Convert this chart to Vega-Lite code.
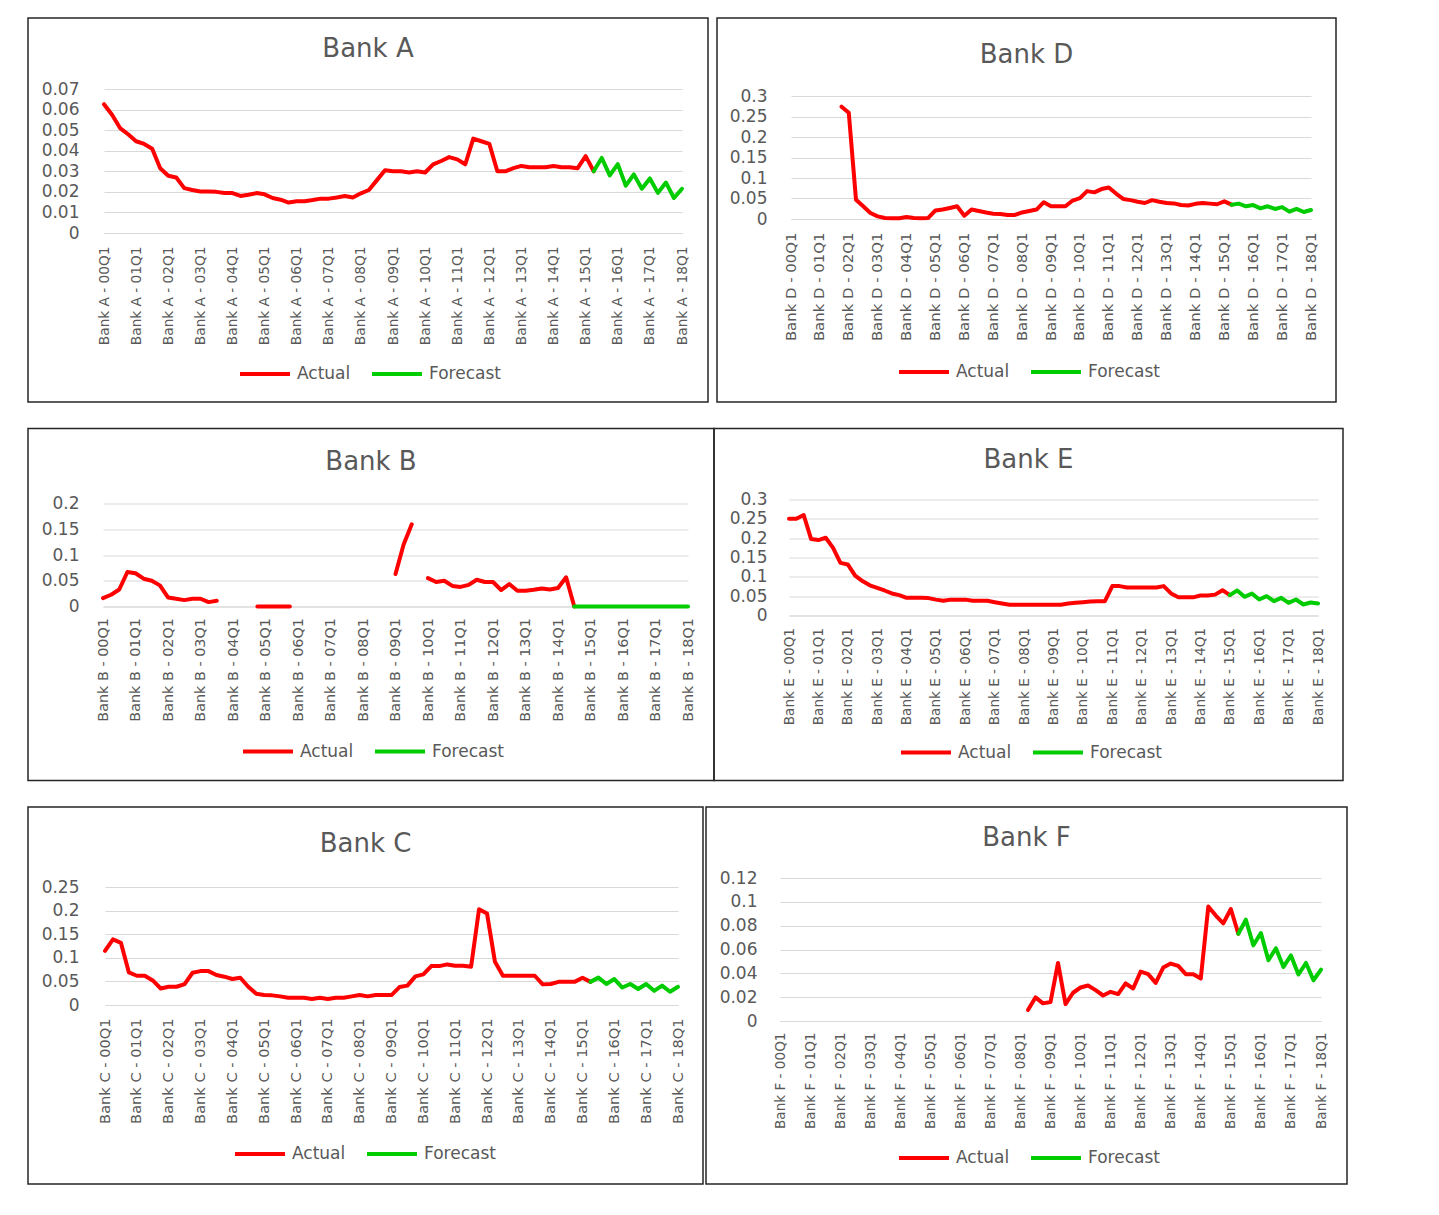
{
"$schema": "https://vega.github.io/schema/vega-lite/v6.json",
"padding": {"left": 27, "top": 17, "right": 4, "bottom": 4},
"background": "white",
"config": {
 "view": {"stroke": "#262626", "strokeWidth": 1.5},
 "font": "DejaVu Sans",
 "axis": {"labelFont": "DejaVu Sans", "labelColor": "#595959", "gridColor": "#D9D9D9", "gridWidth": 1, "domainColor": "#D9D9D9", "ticks": false, "tickSize": 0, "labelOverlap": false},
 "axisX": {"grid": false, "labelAngle": -90, "labelFontSize": 13.6, "domain": true},
 "axisY": {"grid": true, "domain": false, "labelFontSize": 17, "labelPadding": 0, "format": ".2~f"},
 "legend": {"title": null, "orient": "none", "direction": "horizontal", "symbolType": "stroke", "symbolSize": 2500, "symbolStrokeWidth": 4, "labelFont": "DejaVu Sans", "labelFontSize": 17, "labelColor": "#595959", "labelOffset": 5, "columnPadding": 19, "padding": 0},
 "title": {"font": "DejaVu Sans", "fontSize": 26, "fontWeight": "normal", "color": "#595959", "anchor": "middle", "frame": "group", "baseline": "middle"},
 "line": {"strokeWidth": 4, "strokeCap": "round", "strokeJoin": "round", "invalid": "break-paths-show-domains"}
},
"datasets": {
 "A": [
  {"q":"00Q1","Actual":0.0626},{"q":"00Q2","Actual":0.0575},{"q":"00Q3","Actual":0.051},{"q":"00Q4","Actual":0.048},
  {"q":"01Q1","Actual":0.0446},{"q":"01Q2","Actual":0.0433},{"q":"01Q3","Actual":0.041},{"q":"01Q4","Actual":0.0315},
  {"q":"02Q1","Actual":0.0278},{"q":"02Q2","Actual":0.027},{"q":"02Q3","Actual":0.0218},{"q":"02Q4","Actual":0.0209},
  {"q":"03Q1","Actual":0.0202},{"q":"03Q2","Actual":0.0202},{"q":"03Q3","Actual":0.0200},{"q":"03Q4","Actual":0.0194},
  {"q":"04Q1","Actual":0.0194},{"q":"04Q2","Actual":0.018},{"q":"04Q3","Actual":0.0186},{"q":"04Q4","Actual":0.0194},
  {"q":"05Q1","Actual":0.0188},{"q":"05Q2","Actual":0.017},{"q":"05Q3","Actual":0.0162},{"q":"05Q4","Actual":0.0148},
  {"q":"06Q1","Actual":0.0154},{"q":"06Q2","Actual":0.0154},{"q":"06Q3","Actual":0.016},{"q":"06Q4","Actual":0.0167},
  {"q":"07Q1","Actual":0.0167},{"q":"07Q2","Actual":0.0173},{"q":"07Q3","Actual":0.018},{"q":"07Q4","Actual":0.0173},
  {"q":"08Q1","Actual":0.0193},{"q":"08Q2","Actual":0.0209},{"q":"08Q3","Actual":0.0257},{"q":"08Q4","Actual":0.0305},
  {"q":"09Q1","Actual":0.030},{"q":"09Q2","Actual":0.030},{"q":"09Q3","Actual":0.0294},{"q":"09Q4","Actual":0.030},
  {"q":"10Q1","Actual":0.0294},{"q":"10Q2","Actual":0.0334},{"q":"10Q3","Actual":0.035},{"q":"10Q4","Actual":0.0369},
  {"q":"11Q1","Actual":0.0358},{"q":"11Q2","Actual":0.0334},{"q":"11Q3","Actual":0.0459},{"q":"11Q4","Actual":0.0446},
  {"q":"12Q1","Actual":0.0433},{"q":"12Q2","Actual":0.030},{"q":"12Q3","Actual":0.030},{"q":"12Q4","Actual":0.0315},
  {"q":"13Q1","Actual":0.0326},{"q":"13Q2","Actual":0.032},{"q":"13Q3","Actual":0.032},{"q":"13Q4","Actual":0.032},
  {"q":"14Q1","Actual":0.0326},{"q":"14Q2","Actual":0.032},{"q":"14Q3","Actual":0.032},{"q":"14Q4","Actual":0.0315},
  {"q":"15Q1","Actual":0.0374},{"q":"15Q2","Actual":0.030,"Forecast":0.030},{"q":"15Q3","Forecast":0.0365},{"q":"15Q4","Forecast":0.028},
  {"q":"16Q1","Forecast":0.0335},{"q":"16Q2","Forecast":0.023},{"q":"16Q3","Forecast":0.0285},{"q":"16Q4","Forecast":0.0215},
  {"q":"17Q1","Forecast":0.0265},{"q":"17Q2","Forecast":0.0195},{"q":"17Q3","Forecast":0.0245},{"q":"17Q4","Forecast":0.017},
  {"q":"18Q1","Forecast":0.0215}
 ],
 "D": [
  {"q":"00Q1"},{"q":"00Q2"},{"q":"00Q3"},{"q":"00Q4"},
  {"q":"01Q1"},{"q":"01Q2"},{"q":"01Q3"},{"q":"01Q4","Actual":0.274},
  {"q":"02Q1","Actual":0.259},{"q":"02Q2","Actual":0.047},{"q":"02Q3","Actual":0.031},{"q":"02Q4","Actual":0.0147},
  {"q":"03Q1","Actual":0.0065},{"q":"03Q2","Actual":0.0025},{"q":"03Q3","Actual":0.002},{"q":"03Q4","Actual":0.002},
  {"q":"04Q1","Actual":0.005},{"q":"04Q2","Actual":0.0025},{"q":"04Q3","Actual":0.002},{"q":"04Q4","Actual":0.0025},
  {"q":"05Q1","Actual":0.021},{"q":"05Q2","Actual":0.023},{"q":"05Q3","Actual":0.027},{"q":"05Q4","Actual":0.031},
  {"q":"06Q1","Actual":0.008},{"q":"06Q2","Actual":0.023},{"q":"06Q3","Actual":0.0196},{"q":"06Q4","Actual":0.016},
  {"q":"07Q1","Actual":0.013},{"q":"07Q2","Actual":0.012},{"q":"07Q3","Actual":0.0098},{"q":"07Q4","Actual":0.0098},
  {"q":"08Q1","Actual":0.016},{"q":"08Q2","Actual":0.0196},{"q":"08Q3","Actual":0.023},{"q":"08Q4","Actual":0.041},
  {"q":"09Q1","Actual":0.031},{"q":"09Q2","Actual":0.031},{"q":"09Q3","Actual":0.031},{"q":"09Q4","Actual":0.045},
  {"q":"10Q1","Actual":0.051},{"q":"10Q2","Actual":0.068},{"q":"10Q3","Actual":0.065},{"q":"10Q4","Actual":0.073},
  {"q":"11Q1","Actual":0.077},{"q":"11Q2","Actual":0.062},{"q":"11Q3","Actual":0.049},{"q":"11Q4","Actual":0.046},
  {"q":"12Q1","Actual":0.042},{"q":"12Q2","Actual":0.039},{"q":"12Q3","Actual":0.046},{"q":"12Q4","Actual":0.042},
  {"q":"13Q1","Actual":0.039},{"q":"13Q2","Actual":0.038},{"q":"13Q3","Actual":0.034},{"q":"13Q4","Actual":0.033},
  {"q":"14Q1","Actual":0.037},{"q":"14Q2","Actual":0.039},{"q":"14Q3","Actual":0.0375},{"q":"14Q4","Actual":0.036},
  {"q":"15Q1","Actual":0.043},{"q":"15Q2","Actual":0.035,"Forecast":0.035},{"q":"15Q3","Forecast":0.0375},{"q":"15Q4","Forecast":0.031},
  {"q":"16Q1","Forecast":0.034},{"q":"16Q2","Forecast":0.026},{"q":"16Q3","Forecast":0.031},{"q":"16Q4","Forecast":0.0245},
  {"q":"17Q1","Forecast":0.029},{"q":"17Q2","Forecast":0.018},{"q":"17Q3","Forecast":0.0245},{"q":"17Q4","Forecast":0.017},
  {"q":"18Q1","Forecast":0.022}
 ],
 "B": [
  {"q":"00Q1","Actual":0.0163},{"q":"00Q2","Actual":0.0228},{"q":"00Q3","Actual":0.033},{"q":"00Q4","Actual":0.067},
  {"q":"01Q1","Actual":0.0645},{"q":"01Q2","Actual":0.054},{"q":"01Q3","Actual":0.050},{"q":"01Q4","Actual":0.041},
  {"q":"02Q1","Actual":0.0176},{"q":"02Q2","Actual":0.015},{"q":"02Q3","Actual":0.0124},{"q":"02Q4","Actual":0.015},
  {"q":"03Q1","Actual":0.015},{"q":"03Q2","Actual":0.0085},{"q":"03Q3","Actual":0.011},{"q":"03Q4"},
  {"q":"04Q1"},{"q":"04Q2"},{"q":"04Q3"},{"q":"04Q4","Actual":0},
  {"q":"05Q1","Actual":0},{"q":"05Q2","Actual":0},{"q":"05Q3","Actual":0},{"q":"05Q4","Actual":0},
  {"q":"06Q1"},{"q":"06Q2"},{"q":"06Q3"},{"q":"06Q4"},
  {"q":"07Q1"},{"q":"07Q2"},{"q":"07Q3"},{"q":"07Q4"},
  {"q":"08Q1"},{"q":"08Q2"},{"q":"08Q3"},{"q":"08Q4"},
  {"q":"09Q1","Actual":0.0632},{"q":"09Q2","Actual":0.1205},{"q":"09Q3","Actual":0.1596},{"q":"09Q4"},
  {"q":"10Q1","Actual":0.055},{"q":"10Q2","Actual":0.0475},{"q":"10Q3","Actual":0.050},{"q":"10Q4","Actual":0.040},
  {"q":"11Q1","Actual":0.038},{"q":"11Q2","Actual":0.042},{"q":"11Q3","Actual":0.052},{"q":"11Q4","Actual":0.0475},
  {"q":"12Q1","Actual":0.0475},{"q":"12Q2","Actual":0.032},{"q":"12Q3","Actual":0.0436},{"q":"12Q4","Actual":0.0306},
  {"q":"13Q1","Actual":0.0306},{"q":"13Q2","Actual":0.0326},{"q":"13Q3","Actual":0.035},{"q":"13Q4","Actual":0.033},
  {"q":"14Q1","Actual":0.036},{"q":"14Q2","Actual":0.0567},{"q":"14Q3","Actual":0,"Forecast":0},{"q":"14Q4","Forecast":0},
  {"q":"15Q1","Forecast":0},{"q":"15Q2","Forecast":0},{"q":"15Q3","Forecast":0},{"q":"15Q4","Forecast":0},
  {"q":"16Q1","Forecast":0},{"q":"16Q2","Forecast":0},{"q":"16Q3","Forecast":0},{"q":"16Q4","Forecast":0},
  {"q":"17Q1","Forecast":0},{"q":"17Q2","Forecast":0},{"q":"17Q3","Forecast":0},{"q":"17Q4","Forecast":0},
  {"q":"18Q1","Forecast":0}
 ],
 "E": [
  {"q":"00Q1","Actual":0.25},{"q":"00Q2","Actual":0.25},{"q":"00Q3","Actual":0.26},{"q":"00Q4","Actual":0.198},
  {"q":"01Q1","Actual":0.195},{"q":"01Q2","Actual":0.201},{"q":"01Q3","Actual":0.175},{"q":"01Q4","Actual":0.136},
  {"q":"02Q1","Actual":0.132},{"q":"02Q2","Actual":0.103},{"q":"02Q3","Actual":0.089},{"q":"02Q4","Actual":0.078},
  {"q":"03Q1","Actual":0.0716},{"q":"03Q2","Actual":0.0647},{"q":"03Q3","Actual":0.057},{"q":"03Q4","Actual":0.0526},
  {"q":"04Q1","Actual":0.0457},{"q":"04Q2","Actual":0.0457},{"q":"04Q3","Actual":0.0457},{"q":"04Q4","Actual":0.045},
  {"q":"05Q1","Actual":0.041},{"q":"05Q2","Actual":0.038},{"q":"05Q3","Actual":0.041},{"q":"05Q4","Actual":0.041},
  {"q":"06Q1","Actual":0.041},{"q":"06Q2","Actual":0.038},{"q":"06Q3","Actual":0.038},{"q":"06Q4","Actual":0.038},
  {"q":"07Q1","Actual":0.0345},{"q":"07Q2","Actual":0.031},{"q":"07Q3","Actual":0.0276},{"q":"07Q4","Actual":0.0276},
  {"q":"08Q1","Actual":0.0276},{"q":"08Q2","Actual":0.0276},{"q":"08Q3","Actual":0.0276},{"q":"08Q4","Actual":0.0276},
  {"q":"09Q1","Actual":0.0276},{"q":"09Q2","Actual":0.0276},{"q":"09Q3","Actual":0.031},{"q":"09Q4","Actual":0.033},
  {"q":"10Q1","Actual":0.0345},{"q":"10Q2","Actual":0.036},{"q":"10Q3","Actual":0.037},{"q":"10Q4","Actual":0.037},
  {"q":"11Q1","Actual":0.076},{"q":"11Q2","Actual":0.076},{"q":"11Q3","Actual":0.0724},{"q":"11Q4","Actual":0.0724},
  {"q":"12Q1","Actual":0.0724},{"q":"12Q2","Actual":0.0724},{"q":"12Q3","Actual":0.0724},{"q":"12Q4","Actual":0.076},
  {"q":"13Q1","Actual":0.057},{"q":"13Q2","Actual":0.047},{"q":"13Q3","Actual":0.047},{"q":"13Q4","Actual":0.047},
  {"q":"14Q1","Actual":0.0517},{"q":"14Q2","Actual":0.0517},{"q":"14Q3","Actual":0.054},{"q":"14Q4","Actual":0.0655},
  {"q":"15Q1","Actual":0.0526,"Forecast":0.0526},{"q":"15Q2","Forecast":0.0647},{"q":"15Q3","Forecast":0.0483},{"q":"15Q4","Forecast":0.057},
  {"q":"16Q1","Forecast":0.0414},{"q":"16Q2","Forecast":0.05},{"q":"16Q3","Forecast":0.037},{"q":"16Q4","Forecast":0.0457},
  {"q":"17Q1","Forecast":0.0328},{"q":"17Q2","Forecast":0.0414},{"q":"17Q3","Forecast":0.0284},{"q":"17Q4","Forecast":0.0336},
  {"q":"18Q1","Forecast":0.031}
 ],
 "C": [
  {"q":"00Q1","Actual":0.1148},{"q":"00Q2","Actual":0.139},{"q":"00Q3","Actual":0.1317},{"q":"00Q4","Actual":0.069},
  {"q":"01Q1","Actual":0.062},{"q":"01Q2","Actual":0.062},{"q":"01Q3","Actual":0.052},{"q":"01Q4","Actual":0.035},
  {"q":"02Q1","Actual":0.0387},{"q":"02Q2","Actual":0.0387},{"q":"02Q3","Actual":0.0444},{"q":"02Q4","Actual":0.0683},
  {"q":"03Q1","Actual":0.0718},{"q":"03Q2","Actual":0.0718},{"q":"03Q3","Actual":0.0634},{"q":"03Q4","Actual":0.06},
  {"q":"04Q1","Actual":0.055},{"q":"04Q2","Actual":0.0577},{"q":"04Q3","Actual":0.0387},{"q":"04Q4","Actual":0.024},
  {"q":"05Q1","Actual":0.0211},{"q":"05Q2","Actual":0.0204},{"q":"05Q3","Actual":0.0183},{"q":"05Q4","Actual":0.0155},
  {"q":"06Q1","Actual":0.0155},{"q":"06Q2","Actual":0.0155},{"q":"06Q3","Actual":0.0127},{"q":"06Q4","Actual":0.0155},
  {"q":"07Q1","Actual":0.0127},{"q":"07Q2","Actual":0.0155},{"q":"07Q3","Actual":0.0155},{"q":"07Q4","Actual":0.0183},
  {"q":"08Q1","Actual":0.0211},{"q":"08Q2","Actual":0.0183},{"q":"08Q3","Actual":0.0211},{"q":"08Q4","Actual":0.0211},
  {"q":"09Q1","Actual":0.0211},{"q":"09Q2","Actual":0.038},{"q":"09Q3","Actual":0.041},{"q":"09Q4","Actual":0.0606},
  {"q":"10Q1","Actual":0.0648},{"q":"10Q2","Actual":0.0824},{"q":"10Q3","Actual":0.0824},{"q":"10Q4","Actual":0.086},
  {"q":"11Q1","Actual":0.083},{"q":"11Q2","Actual":0.083},{"q":"11Q3","Actual":0.081},{"q":"11Q4","Actual":0.203},
  {"q":"12Q1","Actual":0.194},{"q":"12Q2","Actual":0.0915},{"q":"12Q3","Actual":0.062},{"q":"12Q4","Actual":0.062},
  {"q":"13Q1","Actual":0.062},{"q":"13Q2","Actual":0.062},{"q":"13Q3","Actual":0.062},{"q":"13Q4","Actual":0.0437},
  {"q":"14Q1","Actual":0.0444},{"q":"14Q2","Actual":0.049},{"q":"14Q3","Actual":0.049},{"q":"14Q4","Actual":0.049},
  {"q":"15Q1","Actual":0.0577},{"q":"15Q2","Actual":0.049,"Forecast":0.049},{"q":"15Q3","Forecast":0.058},{"q":"15Q4","Forecast":0.0444},
  {"q":"16Q1","Forecast":0.055},{"q":"16Q2","Forecast":0.037},{"q":"16Q3","Forecast":0.0444},{"q":"16Q4","Forecast":0.0338},
  {"q":"17Q1","Forecast":0.0444},{"q":"17Q2","Forecast":0.030},{"q":"17Q3","Forecast":0.041},{"q":"17Q4","Forecast":0.028},
  {"q":"18Q1","Forecast":0.0387}
 ],
 "F": [
  {"q":"00Q1"},{"q":"00Q2"},{"q":"00Q3"},{"q":"00Q4"},
  {"q":"01Q1"},{"q":"01Q2"},{"q":"01Q3"},{"q":"01Q4"},
  {"q":"02Q1"},{"q":"02Q2"},{"q":"02Q3"},{"q":"02Q4"},
  {"q":"03Q1"},{"q":"03Q2"},{"q":"03Q3"},{"q":"03Q4"},
  {"q":"04Q1"},{"q":"04Q2"},{"q":"04Q3"},{"q":"04Q4"},
  {"q":"05Q1"},{"q":"05Q2"},{"q":"05Q3"},{"q":"05Q4"},
  {"q":"06Q1"},{"q":"06Q2"},{"q":"06Q3"},{"q":"06Q4"},
  {"q":"07Q1"},{"q":"07Q2"},{"q":"07Q3"},{"q":"07Q4"},
  {"q":"08Q1"},{"q":"08Q2","Actual":0.0092},{"q":"08Q3","Actual":0.0198},{"q":"08Q4","Actual":0.0148},
  {"q":"09Q1","Actual":0.0159},{"q":"09Q2","Actual":0.0487},{"q":"09Q3","Actual":0.0142},{"q":"09Q4","Actual":0.0237},
  {"q":"10Q1","Actual":0.0281},{"q":"10Q2","Actual":0.0298},{"q":"10Q3","Actual":0.0259},{"q":"10Q4","Actual":0.0214},
  {"q":"11Q1","Actual":0.0245},{"q":"11Q2","Actual":0.0226},{"q":"11Q3","Actual":0.0315},{"q":"11Q4","Actual":0.0273},
  {"q":"12Q1","Actual":0.0415},{"q":"12Q2","Actual":0.0393},{"q":"12Q3","Actual":0.032},{"q":"12Q4","Actual":0.0448},
  {"q":"13Q1","Actual":0.0482},{"q":"13Q2","Actual":0.0462},{"q":"13Q3","Actual":0.0393},{"q":"13Q4","Actual":0.0393},
  {"q":"14Q1","Actual":0.0356},{"q":"14Q2","Actual":0.096},{"q":"14Q3","Actual":0.0885},{"q":"14Q4","Actual":0.082},
  {"q":"15Q1","Actual":0.094},{"q":"15Q2","Actual":0.0732,"Forecast":0.0732},{"q":"15Q3","Forecast":0.085},{"q":"15Q4","Forecast":0.0635},
  {"q":"16Q1","Forecast":0.0738},{"q":"16Q2","Forecast":0.051},{"q":"16Q3","Forecast":0.061},{"q":"16Q4","Forecast":0.0454},
  {"q":"17Q1","Forecast":0.055},{"q":"17Q2","Forecast":0.039},{"q":"17Q3","Forecast":0.0487},{"q":"17Q4","Forecast":0.0342},
  {"q":"18Q1","Forecast":0.0431}
 ]
},
"resolve": {"scale": {"color": "independent", "x": "independent", "y": "independent"}, "legend": {"color": "independent"}},
"spacing": 24.5,
"vconcat": [
 {
  "hconcat": [
   {
    "width": 680, "height": 384,
    "data": {"name": "A"},
    "transform": [{"fold": ["Actual", "Forecast"], "as": ["series", "value"]}],
    "title": {"text": "Bank A", "offset": -44},
    "mark": {"type": "line"},
    "encoding": {
     "x": {"field": "q", "type": "ordinal", "title": null, "scale": {"type": "point", "range": [76, 654], "padding": 0},
       "axis": {"values": ["00Q1","01Q1","02Q1","03Q1","04Q1","05Q1","06Q1","07Q1","08Q1","09Q1","10Q1","11Q1","12Q1","13Q1","14Q1","15Q1","16Q1","17Q1","18Q1"], "labelExpr": "'Bank A - ' + datum.value", "offset": -169, "labelPadding": 13, "labelFontSize": 13.7}},
     "y": {"field": "value", "type": "quantitative", "title": null, "scale": {"domain": [0, 0.07], "range": [215, 71], "nice": false},
       "axis": {"values": [0, 0.01, 0.02, 0.03, 0.04, 0.05, 0.06, 0.07], "offset": -51}},
     "color": {"field": "series", "type": "nominal", "scale": {"domain": ["Actual", "Forecast"], "range": ["#FF0000", "#00CC00"]},
       "legend": {"legendX": 210, "legendY": 329}}
    }
   },
   {
    "width": 619, "height": 384,
    "data": {"name": "D"},
    "transform": [{"fold": ["Actual", "Forecast"], "as": ["series", "value"]}],
    "title": {"text": "Bank D", "offset": -50},
    "mark": {"type": "line"},
    "encoding": {
     "x": {"field": "q", "type": "ordinal", "title": null, "scale": {"type": "point", "range": [74, 594], "padding": 0},
       "axis": {"values": ["00Q1","01Q1","02Q1","03Q1","04Q1","05Q1","06Q1","07Q1","08Q1","09Q1","10Q1","11Q1","12Q1","13Q1","14Q1","15Q1","16Q1","17Q1","18Q1"], "labelExpr": "'Bank D - ' + datum.value", "offset": -183, "labelPadding": 13, "labelFontSize": 14.9}},
     "y": {"field": "value", "type": "quantitative", "title": null, "scale": {"domain": [0, 0.3], "range": [201, 78], "nice": false},
       "axis": {"values": [0, 0.05, 0.1, 0.15, 0.2, 0.25, 0.3], "offset": -50}},
     "color": {"field": "series", "type": "nominal", "scale": {"domain": ["Actual", "Forecast"], "range": ["#FF0000", "#00CC00"]},
       "legend": {"legendX": 180, "legendY": 327}}
    }
   }
  ],
  "spacing": 9, "bounds": "flush",
  "resolve": {"scale": {"color": "independent", "x": "independent", "y": "independent"}, "legend": {"color": "independent"}}
 },
 {
  "hconcat": [
   {
    "width": 686, "height": 352,
    "data": {"name": "B"},
    "transform": [{"fold": ["Actual", "Forecast"], "as": ["series", "value"]}],
    "title": {"text": "Bank B", "offset": -46},
    "mark": {"type": "line"},
    "encoding": {
     "x": {"field": "q", "type": "ordinal", "title": null, "scale": {"type": "point", "range": [75, 660], "padding": 0},
       "axis": {"values": ["00Q1","01Q1","02Q1","03Q1","04Q1","05Q1","06Q1","07Q1","08Q1","09Q1","10Q1","11Q1","12Q1","13Q1","14Q1","15Q1","16Q1","17Q1","18Q1"], "labelExpr": "'Bank B - ' + datum.value", "offset": -174, "labelPadding": 11, "labelFontSize": 14.4}},
     "y": {"field": "value", "type": "quantitative", "title": null, "scale": {"domain": [0, 0.2], "range": [178, 75], "nice": false},
       "axis": {"values": [0, 0.05, 0.1, 0.15, 0.2], "offset": -51}},
     "color": {"field": "series", "type": "nominal", "scale": {"domain": ["Actual", "Forecast"], "range": ["#FF0000", "#00CC00"]},
       "legend": {"legendX": 213, "legendY": 296}}
    }
   },
   {
    "width": 629, "height": 352,
    "data": {"name": "E"},
    "transform": [{"fold": ["Actual", "Forecast"], "as": ["series", "value"]}],
    "title": {"text": "Bank E", "offset": -44},
    "mark": {"type": "line"},
    "encoding": {
     "x": {"field": "q", "type": "ordinal", "title": null, "scale": {"type": "point", "range": [75, 604], "padding": 0},
       "axis": {"values": ["00Q1","01Q1","02Q1","03Q1","04Q1","05Q1","06Q1","07Q1","08Q1","09Q1","10Q1","11Q1","12Q1","13Q1","14Q1","15Q1","16Q1","17Q1","18Q1"], "labelExpr": "'Bank E - ' + datum.value", "offset": -165, "labelPadding": 12, "labelFontSize": 13.6}},
     "y": {"field": "value", "type": "quantitative", "title": null, "scale": {"domain": [0, 0.3], "range": [187, 71], "nice": false},
       "axis": {"values": [0, 0.05, 0.1, 0.15, 0.2, 0.25, 0.3], "offset": -53}},
     "color": {"field": "series", "type": "nominal", "scale": {"domain": ["Actual", "Forecast"], "range": ["#FF0000", "#00CC00"]},
       "legend": {"legendX": 185, "legendY": 297}}
    }
   }
  ],
  "spacing": 0, "bounds": "flush",
  "resolve": {"scale": {"color": "independent", "x": "independent", "y": "independent"}, "legend": {"color": "independent"}}
 },
 {
  "hconcat": [
   {
    "width": 675, "height": 377,
    "data": {"name": "C"},
    "transform": [{"fold": ["Actual", "Forecast"], "as": ["series", "value"]}],
    "title": {"text": "Bank C", "offset": -50},
    "mark": {"type": "line"},
    "encoding": {
     "x": {"field": "q", "type": "ordinal", "title": null, "scale": {"type": "point", "range": [77, 650], "padding": 0},
       "axis": {"values": ["00Q1","01Q1","02Q1","03Q1","04Q1","05Q1","06Q1","07Q1","08Q1","09Q1","10Q1","11Q1","12Q1","13Q1","14Q1","15Q1","16Q1","17Q1","18Q1"], "labelExpr": "'Bank C - ' + datum.value", "offset": -179, "labelPadding": 13, "labelFontSize": 14.6}},
     "y": {"field": "value", "type": "quantitative", "title": null, "scale": {"domain": [0, 0.25], "range": [198, 80], "nice": false},
       "axis": {"values": [0, 0.05, 0.1, 0.15, 0.2, 0.25], "offset": -51}},
     "color": {"field": "series", "type": "nominal", "scale": {"domain": ["Actual", "Forecast"], "range": ["#FF0000", "#00CC00"]},
       "legend": {"legendX": 205, "legendY": 320}}
    }
   },
   {
    "width": 641, "height": 377,
    "data": {"name": "F"},
    "transform": [{"fold": ["Actual", "Forecast"], "as": ["series", "value"]}],
    "title": {"text": "Bank F", "offset": -44},
    "mark": {"type": "line"},
    "encoding": {
     "x": {"field": "q", "type": "ordinal", "title": null, "scale": {"type": "point", "range": [74, 615], "padding": 0},
       "axis": {"values": ["00Q1","01Q1","02Q1","03Q1","04Q1","05Q1","06Q1","07Q1","08Q1","09Q1","10Q1","11Q1","12Q1","13Q1","14Q1","15Q1","16Q1","17Q1","18Q1"], "labelExpr": "'Bank F - ' + datum.value", "offset": -163, "labelPadding": 11, "labelFontSize": 13.6}},
     "y": {"field": "value", "type": "quantitative", "title": null, "scale": {"domain": [0, 0.12], "range": [214, 71], "nice": false},
       "axis": {"values": [0, 0.02, 0.04, 0.06, 0.08, 0.1, 0.12], "offset": -51}},
     "color": {"field": "series", "type": "nominal", "scale": {"domain": ["Actual", "Forecast"], "range": ["#FF0000", "#00CC00"]},
       "legend": {"legendX": 191, "legendY": 324}}
    }
   }
  ],
  "spacing": 3, "bounds": "flush",
  "resolve": {"scale": {"color": "independent", "x": "independent", "y": "independent"}, "legend": {"color": "independent"}}
 }
]
}
